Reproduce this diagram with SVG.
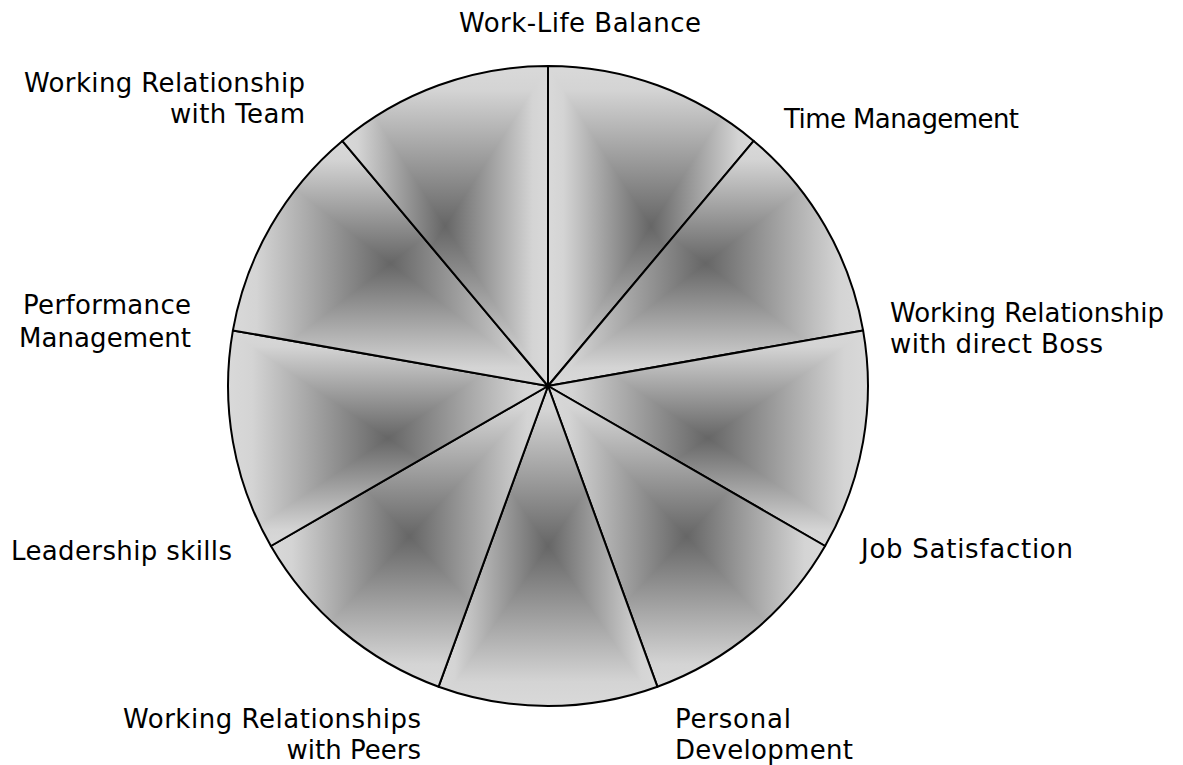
<svg xmlns="http://www.w3.org/2000/svg" width="1183" height="765" viewBox="0 0 1183 765">
<style>
.lbl{font-family:"DejaVu Sans",Verdana,"Liberation Sans",sans-serif;font-size:26px;fill:#000}
.edge{fill:none;stroke:#000;stroke-width:2;stroke-linejoin:round}
.tri{shape-rendering:crispEdges}
</style>
<defs>
<linearGradient id="gT" x1="0" y1="0" x2="0" y2="1"><stop offset="0" stop-color="#d9d9d9"/><stop offset="0.15" stop-color="#d4d4d4"/><stop offset="1" stop-color="#666"/></linearGradient>
<linearGradient id="gB" x1="0" y1="1" x2="0" y2="0"><stop offset="0" stop-color="#d9d9d9"/><stop offset="0.15" stop-color="#d4d4d4"/><stop offset="1" stop-color="#666"/></linearGradient>
<linearGradient id="gL" x1="0" y1="0" x2="1" y2="0"><stop offset="0" stop-color="#d9d9d9"/><stop offset="0.15" stop-color="#d4d4d4"/><stop offset="1" stop-color="#666"/></linearGradient>
<linearGradient id="gR" x1="1" y1="0" x2="0" y2="0"><stop offset="0" stop-color="#d9d9d9"/><stop offset="0.15" stop-color="#d4d4d4"/><stop offset="1" stop-color="#666"/></linearGradient>
<path id="p1" d="M548,386 L548,66 A320,320 0 0,1 753.7,140.9 Z"/>
<path id="p2" d="M548,386 L753.7,140.9 A320,320 0 0,1 863.1,330.4 Z"/>
<path id="p3" d="M548,386 L863.1,330.4 A320,320 0 0,1 825.1,546 Z"/>
<path id="p4" d="M548,386 L825.1,546 A320,320 0 0,1 657.4,686.7 Z"/>
<path id="p5" d="M548,386 L657.4,686.7 A320,320 0 0,1 438.6,686.7 Z"/>
<path id="p6" d="M548,386 L438.6,686.7 A320,320 0 0,1 270.9,546 Z"/>
<path id="p7" d="M548,386 L270.9,546 A320,320 0 0,1 232.9,330.4 Z"/>
<path id="p8" d="M548,386 L232.9,330.4 A320,320 0 0,1 342.3,140.9 Z"/>
<path id="p9" d="M548,386 L342.3,140.9 A320,320 0 0,1 548,66 Z"/>
<clipPath id="c1"><use href="#p1"/></clipPath>
<clipPath id="c2"><use href="#p2"/></clipPath>
<clipPath id="c3"><use href="#p3"/></clipPath>
<clipPath id="c4"><use href="#p4"/></clipPath>
<clipPath id="c5"><use href="#p5"/></clipPath>
<clipPath id="c6"><use href="#p6"/></clipPath>
<clipPath id="c7"><use href="#p7"/></clipPath>
<clipPath id="c8"><use href="#p8"/></clipPath>
<clipPath id="c9"><use href="#p9"/></clipPath>
</defs>
<rect width="1183" height="765" fill="#fff"/>
<g id="wheel">
<g id="wedge-work-life">
<g clip-path="url(#c1)" class="tri">
<polygon points="548,66 753.7,66 650.85,226" fill="url(#gT)"/><polygon points="548,386 753.7,386 650.85,226" fill="url(#gB)"/><polygon points="548,66 548,386 650.85,226" fill="url(#gL)"/><polygon points="753.7,66 753.7,386 650.85,226" fill="url(#gR)"/>
</g><use href="#p1" class="edge"/></g>
<g id="wedge-time">
<g clip-path="url(#c2)" class="tri">
<polygon points="548,140.9 863.1,140.9 705.55,263.45" fill="url(#gT)"/><polygon points="548,386 863.1,386 705.55,263.45" fill="url(#gB)"/><polygon points="548,140.9 548,386 705.55,263.45" fill="url(#gL)"/><polygon points="863.1,140.9 863.1,386 705.55,263.45" fill="url(#gR)"/>
</g><use href="#p2" class="edge"/></g>
<g id="wedge-boss">
<g clip-path="url(#c3)" class="tri">
<polygon points="548,330.4 868,330.4 708,438.2" fill="url(#gT)"/><polygon points="548,546 868,546 708,438.2" fill="url(#gB)"/><polygon points="548,330.4 548,546 708,438.2" fill="url(#gL)"/><polygon points="868,330.4 868,546 708,438.2" fill="url(#gR)"/>
</g><use href="#p3" class="edge"/></g>
<g id="wedge-job">
<g clip-path="url(#c4)" class="tri">
<polygon points="548,386 825.1,386 686.55,536.35" fill="url(#gT)"/><polygon points="548,686.7 825.1,686.7 686.55,536.35" fill="url(#gB)"/><polygon points="548,386 548,686.7 686.55,536.35" fill="url(#gL)"/><polygon points="825.1,386 825.1,686.7 686.55,536.35" fill="url(#gR)"/>
</g><use href="#p4" class="edge"/></g>
<g id="wedge-personal">
<g clip-path="url(#c5)" class="tri">
<polygon points="438.6,386 657.4,386 548,546" fill="url(#gT)"/><polygon points="438.6,706 657.4,706 548,546" fill="url(#gB)"/><polygon points="438.6,386 438.6,706 548,546" fill="url(#gL)"/><polygon points="657.4,386 657.4,706 548,546" fill="url(#gR)"/>
</g><use href="#p5" class="edge"/></g>
<g id="wedge-peers">
<g clip-path="url(#c6)" class="tri">
<polygon points="270.9,386 548,386 409.45,536.35" fill="url(#gT)"/><polygon points="270.9,686.7 548,686.7 409.45,536.35" fill="url(#gB)"/><polygon points="270.9,386 270.9,686.7 409.45,536.35" fill="url(#gL)"/><polygon points="548,386 548,686.7 409.45,536.35" fill="url(#gR)"/>
</g><use href="#p6" class="edge"/></g>
<g id="wedge-leadership">
<g clip-path="url(#c7)" class="tri">
<polygon points="228,330.4 548,330.4 388,438.2" fill="url(#gT)"/><polygon points="228,546 548,546 388,438.2" fill="url(#gB)"/><polygon points="228,330.4 228,546 388,438.2" fill="url(#gL)"/><polygon points="548,330.4 548,546 388,438.2" fill="url(#gR)"/>
</g><use href="#p7" class="edge"/></g>
<g id="wedge-performance">
<g clip-path="url(#c8)" class="tri">
<polygon points="232.9,140.9 548,140.9 390.45,263.45" fill="url(#gT)"/><polygon points="232.9,386 548,386 390.45,263.45" fill="url(#gB)"/><polygon points="232.9,140.9 232.9,386 390.45,263.45" fill="url(#gL)"/><polygon points="548,140.9 548,386 390.45,263.45" fill="url(#gR)"/>
</g><use href="#p8" class="edge"/></g>
<g id="wedge-team">
<g clip-path="url(#c9)" class="tri">
<polygon points="342.3,66 548,66 445.15,226" fill="url(#gT)"/><polygon points="342.3,386 548,386 445.15,226" fill="url(#gB)"/><polygon points="342.3,66 342.3,386 445.15,226" fill="url(#gL)"/><polygon points="548,66 548,386 445.15,226" fill="url(#gR)"/>
</g><use href="#p9" class="edge"/></g>
</g>
<g id="connectors"></g>
<g id="labels">
<g id="label-work-life"><text class="lbl" x="459" y="32" textLength="242">Work-Life Balance</text></g>
<g id="label-time"><text class="lbl" x="784" y="128" textLength="235">Time Management</text></g>
<g id="label-boss"><text class="lbl" x="890" y="322" textLength="274">Working Relationship</text><text class="lbl" x="890" y="353" textLength="213">with direct Boss</text></g>
<g id="label-job"><text class="lbl" x="861" y="558" textLength="212">Job Satisfaction</text></g>
<g id="label-personal"><text class="lbl" x="675" y="728" textLength="116">Personal</text><text class="lbl" x="675" y="759" textLength="178">Development</text></g>
<g id="label-peers"><text class="lbl" x="421" y="728" text-anchor="end" textLength="298">Working Relationships</text><text class="lbl" x="421" y="759" text-anchor="end">with Peers</text></g>
<g id="label-leadership"><text class="lbl" x="11" y="560" textLength="221">Leadership skills</text></g>
<g id="label-performance"><text class="lbl" x="191" y="314" text-anchor="end" textLength="168">Performance</text><text class="lbl" x="191" y="347" text-anchor="end" textLength="172">Management</text></g>
<g id="label-team"><text class="lbl" x="305" y="92" text-anchor="end" textLength="281">Working Relationship</text><text class="lbl" x="305" y="123" text-anchor="end" textLength="135">with Team</text></g>
</g>
</svg>
